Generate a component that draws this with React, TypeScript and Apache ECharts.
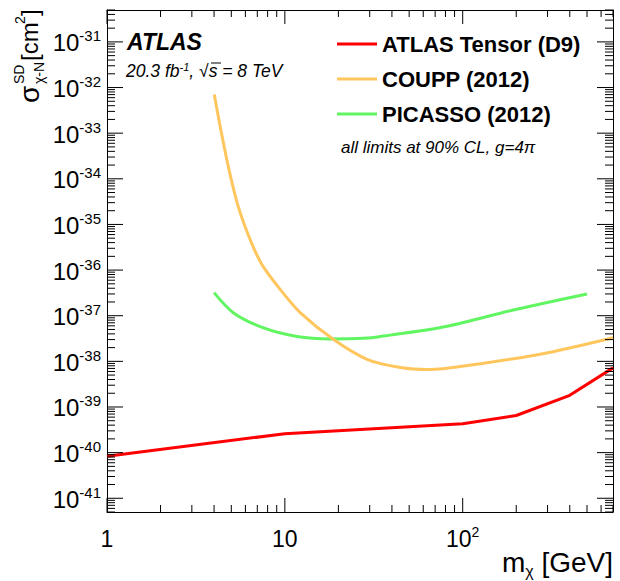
import React, { useEffect, useRef } from 'react';
import * as echarts from 'echarts';

// ---- data ----
const MASS_ATLAS = [1, 10, 100, 200, 400, 700];
const XSEC_ATLAS = [8.3e-41, 2.6e-40, 4.3e-40, 6.5e-40, 1.8e-39, 7.2e-39];

const MASS_COUPP = [4.01, 4.33, 4.68, 5.06, 5.47, 6.15, 6.82, 7.56, 9.43, 12.2, 18.8, 29.2, 44.7, 63.5, 126, 301, 700];
const XSEC_COUPP = [7.0e-33, 1.39e-33, 3.07e-34, 7.85e-35, 2.46e-35, 6.64e-36, 2.54e-36, 1.19e-36, 3.74e-37, 1.17e-37, 3.0e-38, 1.09e-38, 7.3e-39, 6.6e-39, 8.9e-39, 1.55e-38, 3.3e-38];

const MASS_PICASSO = [4.0, 5.15, 7.6, 11.7, 18, 27.8, 34.5, 82, 195, 500];
const XSEC_PICASSO = [3.2e-37, 1.15e-37, 5.4e-38, 3.5e-38, 3.1e-38, 3.2e-38, 3.5e-38, 5.9e-38, 1.35e-37, 3.0e-37];

const SERIES_NAMES = ['ATLAS Tensor (D9)', 'COUPP (2012)', 'PICASSO (2012)'];
const SERIES_COLORS = ['#ff0000', '#ffc65e', '#62f562'];

const X_MAJOR = [1, 10, 100];
const Y_MAJOR = [1e-41, 1e-40, 1e-39, 1e-38, 1e-37, 1e-36, 1e-35, 1e-34, 1e-33, 1e-32, 1e-31];
const X_RANGE = [1, 700];
const Y_RANGE = [5e-42, 5e-31];

const FONT = 'Liberation Sans, Arial, Helvetica, sans-serif';

function minorTicks(min: number, max: number): number[] {
  const out: number[] = [];
  const e0 = Math.floor(Math.log10(min));
  const e1 = Math.ceil(Math.log10(max));
  for (let e = e0; e <= e1; e++) {
    for (let k = 2; k <= 9; k++) {
      const v = Number((k * Math.pow(10, e)).toPrecision(6));
      if (v >= min && v <= max) out.push(v);
    }
  }
  return out;
}

function pairs(xs: number[], ys: number[]) {
  return xs.map((x, i) => [x, ys[i]]);
}

const richX = {
  b: { fontSize: 23, fontFamily: FONT, color: '#000', fill: '#000', lineHeight: 28 },
  s: { fontSize: 14, fontFamily: FONT, color: '#000', fill: '#000', verticalAlign: 'top', lineHeight: 14 },
};
const richY = {
  b: { fontSize: 24, fontFamily: FONT, color: '#000', fill: '#000', lineHeight: 29 },
  s: { fontSize: 15, fontFamily: FONT, color: '#000', fill: '#000', verticalAlign: 'top', lineHeight: 15 },
};

function fmtPow(v: number) {
  const e = Math.round(Math.log10(v));
  if (e === 0) return '{b|1}';
  if (e === 1) return '{b|10}';
  return '{b|10}{s|' + e + '}';
}

export default function App() {
  const ref = useRef<HTMLDivElement>(null);
  useEffect(() => {
    if (!ref.current) return;
    const chart = echarts.init(ref.current, undefined, { renderer: 'svg' });
    const xMinor = minorTicks(X_RANGE[0], X_RANGE[1]);
    const yMinor = minorTicks(Y_RANGE[0], Y_RANGE[1]);

    // tick data: [xValue, yValue, axis (0 = x, 1 = y), major (1) / minor (0)]
    const tickData: number[][] = [];
    X_MAJOR.forEach((v) => tickData.push([v, Y_RANGE[0], 0, 1]));
    xMinor.forEach((v) => tickData.push([v, Y_RANGE[0], 0, 0]));
    Y_MAJOR.forEach((v) => tickData.push([X_RANGE[0], v, 1, 1]));
    yMinor.forEach((v) => tickData.push([X_RANGE[0], v, 1, 0]));

    const tickStyle = { stroke: '#000', lineWidth: 1 };

    const ax = (position: string, range: number[], labels: boolean) => ({
      type: 'log', logBase: 10, min: range[0], max: range[1], position, gridIndex: 0,
      axisLine: { show: true, onZero: false, lineStyle: { color: '#000', width: 1 } },
      axisTick: { show: false },
      axisLabel: labels ? { show: true, customValues: X_MAJOR, margin: 13, formatter: fmtPow, rich: richX } : { show: false },
      splitLine: { show: false }, minorTick: { show: false },
    });

    const lineSeries = (idx: number, data: number[][], smooth: number | boolean) => ({
      type: 'line', name: SERIES_NAMES[idx], data, xAxisIndex: 0, yAxisIndex: 0,
      showSymbol: false, symbol: 'none', smooth, color: SERIES_COLORS[idx],
      lineStyle: { color: SERIES_COLORS[idx], width: 3 }, clip: true, z: 3,
    });

    const txt = (x: number, y: number, text: string, font: string, align = 'left') => ({
      type: 'text', x, y,
      style: { text, font, fill: '#000', textAlign: align, align, textVerticalAlign: 'middle', verticalAlign: 'middle' },
    });

    chart.setOption({
      animation: false,
      backgroundColor: '#fff',
      grid: { left: 107, right: 7, top: 10, bottom: 69, containLabel: false },
      xAxis: [ax('bottom', X_RANGE, true), ax('top', X_RANGE, false)],
      yAxis: [ax('left', Y_RANGE, false), ax('right', Y_RANGE, false)],
      legend: {
        orient: 'vertical', left: 337, top: 32, padding: 0, itemWidth: 40, itemHeight: 3, itemGap: 11,
        icon: 'rect', selectedMode: false, data: SERIES_NAMES,
        textStyle: { fontSize: 22, fontWeight: 'bold', fontFamily: FONT, color: '#000', lineHeight: 24 },
      },
      series: [
        {
          type: 'custom', name: 'ticks', coordinateSystem: 'cartesian2d', xAxisIndex: 0, yAxisIndex: 0,
          silent: true, clip: false, z: 5, data: tickData,
          dimensions: ['xv', 'yv', 'axis', 'major'], encode: { x: 0, y: 1 },
          renderItem: (params: any, api: any) => {
            const cs = params.coordSys;
            const isY = api.value(2) === 1;
            const major = api.value(3) === 1;
            const p = api.coord([api.value(0), api.value(1)]);
            if (!isY) {
              const len = major ? 14 : 7;
              const bottom = cs.y + cs.height;
              return {
                type: 'group', children: [
                  { type: 'line', shape: { x1: p[0], y1: bottom, x2: p[0], y2: bottom - len }, style: tickStyle },
                  { type: 'line', shape: { x1: p[0], y1: cs.y, x2: p[0], y2: cs.y + len }, style: tickStyle },
                ],
              };
            }
            const len = major ? 16 : 8;
            const right = cs.x + cs.width;
            const children: any[] = [
              { type: 'line', shape: { x1: cs.x, y1: p[1], x2: cs.x + len, y2: p[1] }, style: tickStyle },
              { type: 'line', shape: { x1: right, y1: p[1], x2: right - len, y2: p[1] }, style: tickStyle },
            ];
            if (major) {
              children.push({
                type: 'text', x: cs.x - 6, y: p[1] + 1,
                style: { text: fmtPow(api.value(1)), rich: richY, textAlign: 'right', align: 'right', textVerticalAlign: 'middle', verticalAlign: 'middle' },
              });
            }
            return { type: 'group', children };
          },
        },
        lineSeries(2, pairs(MASS_PICASSO, XSEC_PICASSO), 0.3),
        lineSeries(1, pairs(MASS_COUPP, XSEC_COUPP), 0.3),
        lineSeries(0, pairs(MASS_ATLAS, XSEC_ATLAS), false),
      ],
      graphic: [
        txt(127, 42, 'ATLAS', 'italic bold 23px ' + FONT),
        { type: 'text', x: 126, y: 71, style: {
          text: '{t|20.3 fb}{u|-1}{t|, √s = 8 TeV}', textAlign: 'left', align: 'left', textVerticalAlign: 'middle', verticalAlign: 'middle',
          rich: {
            t: { fontSize: 17.5, fontStyle: 'italic', fontFamily: FONT, fill: '#000', color: '#000', lineHeight: 20 },
            u: { fontSize: 11, fontStyle: 'italic', fontFamily: FONT, fill: '#000', color: '#000', verticalAlign: 'top', lineHeight: 11 },
          } } },
        { type: 'line', shape: { x1: 211, y1: 63, x2: 221, y2: 63 }, style: { stroke: '#000', lineWidth: 1 } },
        txt(341, 147, 'all limits at 90% CL, g=4π', 'italic 17px ' + FONT),
        { type: 'text', x: 613, y: 562, style: {
          text: '{m|m}{c|χ}{m| [GeV]}', textAlign: 'right', align: 'right', textVerticalAlign: 'middle', verticalAlign: 'middle',
          rich: {
            m: { fontSize: 28, fontFamily: FONT, color: '#000', fill: '#000', lineHeight: 34 },
            c: { fontSize: 16, fontFamily: FONT, color: '#000', fill: '#000', verticalAlign: 'bottom', lineHeight: 16 },
          } } },
        { type: 'group', x: 29, y: 103, rotation: Math.PI / 2, children: [
          txt(0, 0, 'σ', '28px ' + FONT),
          txt(19, -10, 'SD', '14px ' + FONT),
          txt(19, 10, 'χ-N', '14px ' + FONT),
          txt(42, 0, '[cm', '24px ' + FONT),
          txt(79, -9, '2', '14px ' + FONT),
          txt(87, 0, ']', '24px ' + FONT),
        ] },
      ],
    });
    return () => chart.dispose();
  }, []);
  return <div ref={ref} style={{ position: 'absolute', left: 0, top: 0, width: 620, height: 581 }} />;
}
